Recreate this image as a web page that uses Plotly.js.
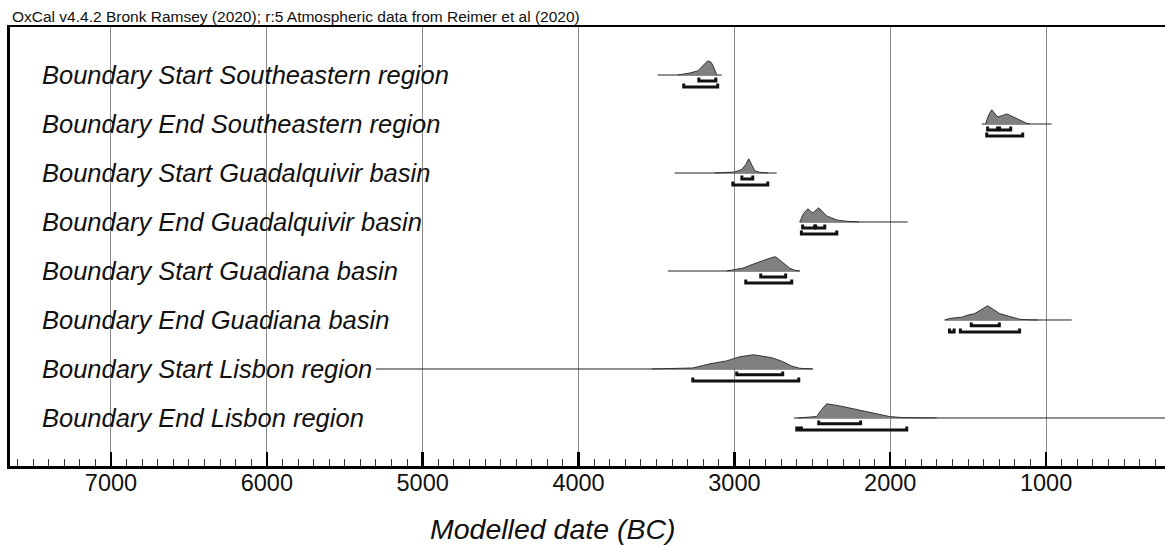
<!DOCTYPE html>
<html>
<head>
<meta charset="utf-8">
<script src="https://cdn.plot.ly/plotly-3.0.1.min.js"></script>
<style>
  html, body { margin: 0; padding: 0; background: #fff; }
  #chart { width: 1165px; height: 545px; }
</style>
</head>
<body>
<div id="chart"></div>
<script>
// ---- Data (years BC, relative probability) ----
const rowLabels = [
  "Boundary Start Southeastern region",
  "Boundary End Southeastern region",
  "Boundary Start Guadalquivir basin",
  "Boundary End Guadalquivir basin",
  "Boundary Start Guadiana basin",
  "Boundary End Guadiana basin",
  "Boundary Start Lisbon region",
  "Boundary End Lisbon region"
];

// extent of the thin baseline line for each row
const lineFrom = [3492, 1413, 3383, 2581, 3427, 1650, 5300, 2619];
const lineTo   = [3081,  964, 2728, 1888, 2581,  836, 2497,    0];

// posterior distributions
const startSE_years = [3363, 3286, 3235, 3209, 3185, 3171, 3150, 3139, 3113];
const startSE_prob  = [0, 0.14, 0.29, 0.57, 0.9, 1.0, 0.9, 0.7, 0];
const endSE_years   = [1388, 1370, 1349, 1330, 1311, 1280, 1253, 1230, 1202, 1160, 1125, 1106];
const endSE_prob    = [0, 0.6, 1.0, 0.75, 0.5, 0.6, 0.71, 0.6, 0.45, 0.22, 0.05, 0];
const startGQ_years = [3126, 3050, 2998, 2952, 2927, 2908, 2889, 2869, 2837, 2786];
const startGQ_prob  = [0, 0.03, 0.07, 0.25, 0.6, 1.0, 0.6, 0.15, 0.05, 0];
const endGQ_years   = [2581, 2556, 2529, 2497, 2459, 2408, 2343, 2280, 2215, 2200];
const endGQ_prob    = [0, 0.6, 0.93, 0.64, 1.0, 0.43, 0.14, 0.05, 0.02, 0];
const startGD_years = [3049, 2946, 2882, 2818, 2760, 2735, 2690, 2645, 2613, 2581];
const startGD_prob  = [0, 0.2, 0.47, 0.73, 0.95, 1.0, 0.6, 0.2, 0.05, 0];
const endGD_years   = [1650, 1620, 1587, 1540, 1500, 1458, 1420, 1375, 1340, 1298, 1250, 1200, 1170, 1100, 1050];
const endGD_prob    = [0, 0.1, 0.15, 0.2, 0.35, 0.45, 0.7, 1.0, 0.75, 0.45, 0.3, 0.12, 0.05, 0.01, 0];
const startLB_years = [3530, 3400, 3267, 3158, 3049, 2966, 2876, 2760, 2696, 2632, 2581, 2497];
const startLB_prob  = [0, 0.03, 0.07, 0.36, 0.57, 0.86, 1.0, 0.79, 0.55, 0.2, 0.05, 0];
const endLB_years   = [2594, 2472, 2440, 2408, 2324, 2196, 2068, 2004, 1927, 1800, 1702];
const endLB_prob    = [0, 0.1, 0.6, 1.0, 0.85, 0.55, 0.25, 0.1, 0.03, 0.02, 0];

const distYears = [startSE_years, endSE_years, startGQ_years, endGQ_years, startGD_years, endGD_years, startLB_years, endLB_years];
const distProb  = [startSE_prob, endSE_prob, startGQ_prob, endGQ_prob, startGD_prob, endGD_prob, startLB_prob, endLB_prob];

// highest posterior density ranges
const hpd68 = [
  [[3228, 3119]],
  [[1375, 1311], [1298, 1227]],
  [[2952, 2882]],
  [[2562, 2485], [2478, 2420]],
  [[2831, 2671]],
  [[1480, 1300]],
  [[2985, 2690]],
  [[2459, 2190]]
];
const hpd95 = [
  [[3325, 3107]],
  [[1381, 1150]],
  [[3010, 2786]],
  [[2570, 2343]],
  [[2927, 2632]],
  [[1620, 1590], [1550, 1170]],
  [[3267, 2587]],
  [[2600, 2587], [2570, 1894]]
];

const xTickVals = [7000, 6000, 5000, 4000, 3000, 2000, 1000];
const axisTitle = 'Modelled date (BC)';
const noteText = 'OxCal v4.4.2 Bronk Ramsey (2020); r:5 Atmospheric data from Reimer et al (2020)';

// ---- Styling constants ----
const FONT = 'Liberation Sans, Arial, sans-serif';
const PEAK_H = 0.29;   // peak height in row units
const OFF68 = 0.12, OFF95 = 0.245, END_TICK = 0.07;

const traces = [];
rowLabels.forEach((lab, i) => {
  traces.push({
    type: 'scatter', mode: 'lines', hoverinfo: 'skip', showlegend: false,
    x: [lineFrom[i], lineTo[i]], y: [i, i],
    line: { color: '#222', width: 1 }
  });
  traces.push({
    type: 'scatter', mode: 'lines', hoverinfo: 'skip', showlegend: false,
    x: distYears[i], y: distProb[i].map(p => i - p * PEAK_H),
    fill: 'toself', fillcolor: '#808080',
    line: { color: '#333', width: 1 }
  });
  [[hpd68[i], OFF68], [hpd95[i], OFF95]].forEach(([ranges, off]) => {
    const bx = [], by = [];
    ranges.forEach(([a, b]) => {
      bx.push(a, a, b, b, null);
      by.push(i + off - END_TICK, i + off, i + off, i + off - END_TICK, null);
    });
    traces.push({
      type: 'scatter', mode: 'lines', hoverinfo: 'skip', showlegend: false,
      x: bx, y: by, line: { color: '#111', width: 3 }
    });
  });
});

const annotations = rowLabels.map((lab, i) => ({
  text: lab, xref: 'paper', yref: 'y', x: 0.0262, y: i,
  xanchor: 'left', yanchor: 'middle', showarrow: false,
  font: { family: FONT, size: 25.5, color: '#111', style: 'italic' }
}));
annotations.push({
  text: noteText,
  xref: 'paper', yref: 'paper', x: 0, y: 1, xanchor: 'left', yanchor: 'bottom',
  yshift: 0, showarrow: false,
  font: { family: FONT, size: 15.5, color: '#111' }
});
annotations.push({
  text: axisTitle,
  xref: 'paper', yref: 'paper', x: 0.470, y: -0.143, xanchor: 'center', yanchor: 'middle',
  showarrow: false,
  font: { family: FONT, size: 28.5, color: '#111', style: 'italic' }
});

const layout = {
  width: 1165, height: 545,
  margin: { l: 10, r: 0, t: 27, b: 79 },
  paper_bgcolor: '#fff', plot_bgcolor: '#fff',
  showlegend: false,
  xaxis: {
    range: [7648, 237], tickvals: xTickVals, ticktext: xTickVals.map(String),
    showgrid: true, gridcolor: '#8a8a8a', gridwidth: 1, zeroline: false,
    showline: true, linecolor: '#000', linewidth: 2.5, mirror: true,
    ticks: 'inside', ticklen: 14, tickwidth: 2.5, tickcolor: '#000',
    ticklabelstandoff: -6,
    minor: { dtick: 100, tick0: 0, ticks: 'inside', ticklen: 7, tickwidth: 1, tickcolor: '#333', showgrid: false },
    tickfont: { family: FONT, size: 23.5, color: '#111' },
    fixedrange: true
  },
  yaxis: {
    range: [7.98, -0.98], showgrid: false, zeroline: false,
    showticklabels: false, ticks: '',
    showline: true, linecolor: '#000', linewidth: 3,
    fixedrange: true
  },
  annotations: annotations
};

Plotly.newPlot('chart', traces, layout, { displayModeBar: false, staticPlot: true });
</script>
</body>
</html>
